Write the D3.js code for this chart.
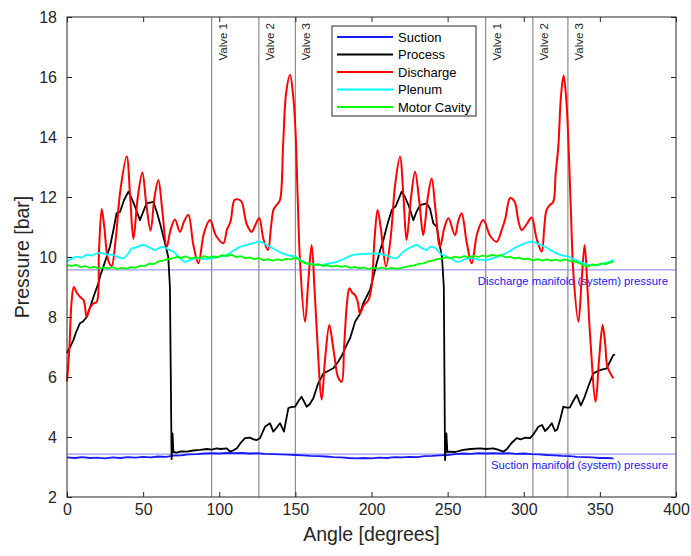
<!DOCTYPE html>
<html>
<head>
<meta charset="utf-8">
<script src="https://cdn.jsdelivr.net/npm/d3@7"></script>
<style>
  body { margin: 0; background: #fff; }
  svg { display: block; font-family: "Liberation Sans", Arial, sans-serif; }
</style>
</head>
<body>
<div id="chart"></div>
<script>
// ---- data ----
const angleTicks = [0, 50, 100, 150, 200, 250, 300, 350, 400];
const pressureTicks = [2, 4, 6, 8, 10, 12, 14, 16, 18];

const valveAngles = [95, 126, 150, 275, 306, 329];
const valveNames = ["Valve 1", "Valve 2", "Valve 3", "Valve 1", "Valve 2", "Valve 3"];

const dischargeManifold = 9.57;
const suctionManifold = 3.43;

const seriesNames = ["Suction", "Process", "Discharge", "Plenum", "Motor Cavity"];
const seriesColors = ["#1a1aff", "#000000", "#ff0000", "#00ffff", "#00ff00"];

// [angle, pressure]
const suction = [
  [0,3.32],[5,3.30],[10,3.33],[15,3.30],[20,3.31],[25,3.29],[30,3.32],[35,3.30],[40,3.33],[45,3.31],
  [50,3.34],[55,3.32],[60,3.35],[65,3.34],[70,3.38],[75,3.39],[80,3.42],[85,3.43],[90,3.45],[95,3.46],
  [100,3.45],[105,3.47],[110,3.46],[115,3.47],[120,3.45],[125,3.46],[130,3.44],[135,3.43],[140,3.42],
  [145,3.41],[150,3.40],[155,3.39],[160,3.37],[165,3.36],[170,3.35],[175,3.33],[180,3.32],[185,3.30],
  [190,3.29],[195,3.30],[200,3.29],[205,3.31],[210,3.30],[215,3.33],[220,3.32],[225,3.34],[230,3.33],
  [235,3.36],[240,3.37],[245,3.39],[250,3.40],[255,3.43],[260,3.45],[265,3.44],[270,3.46],[275,3.45],
  [280,3.46],[285,3.45],[290,3.46],[295,3.44],[300,3.45],[305,3.43],[310,3.42],[315,3.40],[320,3.39],
  [325,3.37],[330,3.36],[335,3.34],[340,3.33],[345,3.32],[350,3.30],[355,3.30],[359,3.29]
];

const process = [
  [0,6.8],[2,7.0],[4.2,7.23],[6,7.5],[8.5,7.79],[10.5,7.85],[12.9,8.0],[15,8.3],[17.3,8.65],[19,8.9],
  [20.6,9.12],[22,9.4],[23.9,9.68],[26,10.0],[28.2,10.34],[30.5,10.9],[32.6,11.46],[34.8,11.5],[37.5,11.9],
  [40.3,12.18],[42.5,11.95],[44.7,11.68],[47.9,11.23],[50,11.5],[52.3,11.79],[56.7,11.84],[59,11.5],
  [61.1,11.12],[64.4,10.46],[66.5,10.0],[67.6,9.0],[68.7,3.26],[69.3,4.12],[69.9,3.5],[72,3.48],[75,3.52],
  [78.6,3.51],[83,3.55],[87.4,3.57],[92,3.6],[95,3.58],[98.3,3.62],[101,3.6],[104.9,3.62],[107.1,3.51],
  [109,3.55],[111.5,3.62],[114,3.8],[116.9,3.96],[120.2,3.98],[122.5,3.92],[124.6,3.9],[126.8,3.96],
  [130,4.34],[133.3,4.46],[135.5,4.18],[137.5,4.3],[139.9,4.46],[142.5,4.18],[145.4,4.96],[147.5,5.0],
  [149.8,5.01],[152,5.2],[154.1,5.34],[157.4,5.01],[159.5,5.1],[161.8,5.29],[165,5.79],[168.4,6.12],
  [171.5,6.2],[174.9,6.29],[178,6.5],[180.4,6.7],[183.7,7.07],[186,7.3],[189.2,7.84],[192.4,8.1],
  [194.6,8.46],[199,8.9],[201,9.3],[203.4,9.79],[205.5,10.2],[207.8,10.57],[210.5,11.1],[213.3,11.57],
  [216,11.7],[219.8,12.18],[222,12.0],[224.5,11.7],[227.5,11.23],[229.5,11.5],[231.9,11.73],[236.3,11.79],
  [238.4,11.62],[240.6,11.12],[242.8,11.01],[245,10.34],[246.3,10.0],[247.5,9.0],[248.3,3.23],[249.2,4.12],
  [249.8,3.5],[251.5,3.51],[255,3.5],[260.3,3.57],[265,3.6],[271.3,3.62],[275,3.6],[280,3.62],[283,3.58],
  [286.6,3.51],[289,3.6],[292,3.8],[295.4,3.96],[298,3.92],[301,3.98],[304.1,3.96],[306.5,4.1],[309.6,4.34],
  [312,4.4],[314,4.2],[316,4.3],[318.4,4.46],[320.5,4.2],[322,4.25],[324,4.6],[326,5.01],[328,4.98],
  [330.2,4.98],[332.5,5.2],[334.8,5.4],[337.5,5.05],[340,5.34],[342.5,5.7],[345.7,6.12],[350,6.23],
  [354.5,6.29],[356.5,6.5],[358.8,6.73],[360,6.75]
];

const discharge = [
  [0,5.85],[1.5,6.9],[3,8.5],[4.5,9.0],[6.5,8.8],[9,8.65],[11,8.55],[12.9,8.0],[15,8.3],[17.3,8.45],
  [19.5,8.5],[21,10.2],[22.8,11.6],[24.5,11.0],[27,9.9],[29.3,9.7],[32,10.6],[35,12.2],[39.2,13.35],
  [41.5,12.0],[43.6,10.6],[46.5,12.0],[49.5,12.82],[52,11.8],[54.9,10.88],[57.5,12.0],[60,12.57],
  [62.5,11.6],[65.5,10.34],[68,10.9],[70.9,11.25],[74.2,10.84],[77,11.2],[79.7,11.4],[83,10.4],[86.3,9.79],
  [90,10.8],[93.9,11.23],[98,10.7],[102.7,10.46],[105,10.9],[107.5,11.2],[110,11.9],[112.5,11.92],
  [114.7,11.84],[118,11.1],[121.3,10.84],[124,11.1],[126.3,11.3],[129,10.6],[132,10.23],[134,11.0],
  [135.8,11.6],[138,11.75],[139.9,11.9],[142,13.8],[144,15.5],[146.5,16.07],[148.5,15.4],[150,14.3],
  [151.5,12.0],[153,9.9],[156.3,7.84],[158.5,9.2],[160.7,10.4],[162.5,9.0],[164,7.6],[167.3,5.25],
  [169.5,6.6],[172.3,7.73],[174.5,7.1],[176,6.57],[178,6.0],[180.4,5.84],[182,7.0],[183.8,8.4],
  [185.5,8.96],[187.5,8.8],[189.2,8.73],[191,8.5],[192.4,8.12],[195,8.4],[198,8.57],[200,9.0],[202,10.6],
  [204,11.57],[206,11.0],[209.5,9.68],[212.5,10.6],[215.5,12.4],[218.7,13.34],[221,12.0],[223,10.57],
  [226,12.0],[228.6,12.84],[231.5,11.8],[234,10.73],[237,12.0],[239.5,12.62],[242,11.6],[245,10.34],
  [248,11.0],[250.5,11.29],[254.8,10.73],[257,11.2],[259.2,11.46],[262.5,10.5],[265.8,9.79],[269.5,10.8],
  [273.4,11.23],[278,10.7],[282.2,10.51],[285.5,10.9],[288,11.3],[291,11.96],[294,11.84],[296.5,11.2],
  [298.6,10.9],[302,11.1],[305.2,11.32],[308.5,10.6],[311.8,10.18],[313.5,11.0],[315,11.57],[317.5,11.75],
  [319.4,11.84],[321,12.8],[322.7,13.68],[324.5,15.4],[326.2,16.05],[328,15.2],[329.5,13.6],[331,11.5],
  [332.6,9.46],[335.9,7.84],[338,9.2],[340,10.4],[341.8,9.0],[343.5,7.46],[347.2,5.18],[349.5,6.6],
  [351.8,7.73],[353.5,7.1],[355,6.34],[358.8,5.96]
];

const plenum = [
  [0,9.84],[3,9.95],[6.4,10.01],[9.5,9.98],[12.9,10.07],[16,10.05],[19.5,10.12],[23.9,10.12],[27,10.08],
  [30.4,10.07],[33.5,10.0],[37,9.96],[40,10.1],[42.5,10.28],[45.5,10.32],[50,10.4],[54,10.32],[57.8,10.23],
  [60.5,10.3],[63.3,10.34],[66.5,10.25],[69.8,10.18],[73.5,10.0],[77.5,9.84],[81,9.9],[85.2,9.96],[90,9.93],
  [96.1,9.96],[100,10.0],[104.9,10.07],[109,10.2],[113.6,10.34],[118,10.4],[122.4,10.46],[126.8,10.51],
  [130,10.44],[133.3,10.34],[138.5,10.2],[144.3,10.07],[149.8,10.01],[153.5,9.9],[157.4,9.79],[161.5,9.76],
  [166.2,9.73],[171.5,9.78],[177.1,9.84],[182.5,9.95],[188,10.07],[194.5,10.1],[201.2,10.12],[206,10.1],
  [211,10.03],[216.5,9.96],[220.9,10.18],[225,10.3],[229.7,10.4],[233,10.3],[236.3,10.23],[238.4,10.34],
  [242,10.3],[245,10.12],[248,10.05],[252,9.95],[257,9.84],[261,9.92],[264.7,9.96],[270,9.92],[275.7,9.9],
  [281,9.98],[286,10.07],[291,10.2],[295.4,10.34],[300,10.44],[305.2,10.51],[309.5,10.44],[314,10.34],
  [318,10.22],[321.6,10.12],[325.5,10.05],[329.3,10.01],[333,9.92],[337,9.84],[340,9.78],[343.5,9.73],
  [347.5,9.72],[351,9.76],[355,9.82],[358.8,9.9]
];

const motorCavity = [
  [0,9.73],[3,9.70],[6,9.74],[9,9.66],[12,9.70],[15,9.64],[18,9.67],[21,9.61],[24,9.65],[27,9.62],
  [30,9.66],[33,9.60],[36,9.64],[39,9.61],[42,9.66],[45,9.64],[48,9.71],[51,9.70],[54,9.78],[57,9.76],
  [60,9.85],[63,9.88],[66,9.92],[69,9.95],[72,10.00],[75,9.97],[78,10.02],[81,9.95],[84,9.99],[87,9.96],
  [90,10.03],[93,9.98],[96,10.02],[99,10.00],[102,10.06],[105,10.03],[108,10.08],[111,10.00],[114,10.03],
  [117,9.96],[120,9.99],[123,9.93],[126,9.96],[129,9.89],[132,9.93],[135,9.88],[138,9.92],[141,9.89],
  [144,9.94],[147,9.92],[150,9.98],[153,9.88],[156,9.80],[159,9.77],[162,9.73],[165,9.76],[168,9.70],
  [171,9.73],[174,9.68],[177,9.71],[180,9.67],[183,9.70],[186,9.64],[189,9.67],[192,9.62],[195,9.65],
  [198,9.60],[201,9.64],[204,9.61],[207,9.65],[210,9.60],[213,9.64],[216,9.61],[219,9.63],[222,9.66],
  [225,9.70],[228,9.72],[231,9.77],[234,9.79],[237,9.85],[240,9.88],[243,9.93],[246,9.95],[249,9.99],
  [252,9.96],[255,10.01],[258,9.98],[261,10.03],[264,9.99],[267,10.04],[270,10.0],[273,10.05],[276,10.01],
  [279,10.07],[282,10.04],[285,10.06],[288,9.99],[291,10.01],[294,9.95],[297,9.98],[300,9.92],[303,9.95],
  [306,9.89],[309,9.93],[312,9.88],[315,9.92],[318,9.88],[321,9.91],[324,9.87],[327,9.92],[330,9.87],
  [333,9.86],[336,9.80],[339,9.74],[342,9.68],[345,9.75],[348,9.72],[351,9.79],[354,9.76],[357,9.82],
  [359,9.84]
];

const seriesData = [suction, process, discharge, plenum, motorCavity];

// ---- layout ----
const width = 691, height = 556;
const plot = { left: 67, top: 17, right: 676, bottom: 497 };
const axisColor = "#262626";

const x = d3.scaleLinear().domain([0, 400]).range([plot.left, plot.right]);
const y = d3.scaleLinear().domain([2, 18]).range([plot.bottom, plot.top]);

const svg = d3.select("#chart").append("svg")
  .attr("width", width)
  .attr("height", height);

svg.append("rect")
  .attr("width", width).attr("height", height)
  .attr("fill", "#fff");

// valve lines
svg.append("g").selectAll("line")
  .data(valveAngles)
  .enter().append("line")
  .attr("x1", d => x(d)).attr("x2", d => x(d))
  .attr("y1", plot.top).attr("y2", plot.bottom)
  .attr("stroke", "#8c8c8c")
  .attr("stroke-width", 1.2);

svg.append("g").selectAll("text")
  .data(valveAngles)
  .enter().append("text")
  .attr("transform", d => `translate(${x(d) + 15},${plot.top + 6}) rotate(-90)`)
  .attr("text-anchor", "end")
  .style("font-size", "11.5px")
  .attr("fill", "#262626")
  .text((d, i) => valveNames[i]);

// manifold reference lines
const refLines = [dischargeManifold, suctionManifold];
const refLabels = ["Discharge manifold (system) pressure", "Suction manifold (system) pressure"];

svg.append("g").selectAll("line")
  .data(refLines)
  .enter().append("line")
  .attr("x1", plot.left).attr("x2", plot.right)
  .attr("y1", d => y(d)).attr("y2", d => y(d))
  .attr("stroke", "#7f7fff")
  .attr("stroke-width", 1);

svg.append("g").selectAll("text")
  .data(refLines)
  .enter().append("text")
  .attr("x", 668)
  .attr("y", d => y(d) + 15)
  .attr("text-anchor", "end")
  .style("font-size", "11.3px")
  .attr("fill", "#2020ff")
  .text((d, i) => refLabels[i]);

// series
const line = d3.line()
  .x(d => x(d[0]))
  .y(d => y(d[1]));

const smooth = d3.curveCatmullRom.alpha(0.5);
const curves = [d3.curveLinear, d3.curveLinear, smooth, smooth, d3.curveLinear];
const widths = [1.8, 1.8, 2, 1.8, 1.8];

svg.append("g").selectAll("path")
  .data(seriesData)
  .enter().append("path")
  .attr("d", (d, i) => line.curve(curves[i])(d))
  .attr("fill", "none")
  .attr("stroke", (d, i) => seriesColors[i])
  .attr("stroke-width", (d, i) => widths[i])
  .attr("stroke-linejoin", "round");

// axes (ticks inside, mirrored on top / right)
const fontSize = "16px";

const gx = svg.append("g")
  .attr("transform", `translate(0,${plot.bottom})`)
  .call(d3.axisBottom(x).tickValues(angleTicks).tickSizeInner(-5).tickSizeOuter(0).tickPadding(7));

const gy = svg.append("g")
  .attr("transform", `translate(${plot.left},0)`)
  .call(d3.axisLeft(y).tickValues(pressureTicks).tickSizeInner(-5).tickSizeOuter(0).tickPadding(10));

const gt = svg.append("g")
  .attr("transform", `translate(0,${plot.top})`)
  .call(d3.axisTop(x).tickValues(angleTicks).tickSizeInner(-5).tickSizeOuter(0).tickFormat(""));

const gr = svg.append("g")
  .attr("transform", `translate(${plot.right},0)`)
  .call(d3.axisRight(y).tickValues(pressureTicks).tickSizeInner(-5).tickSizeOuter(0).tickFormat(""));

[gx, gy, gt, gr].forEach(g => {
  g.select(".domain").remove();
  g.selectAll("line").attr("stroke", axisColor);
  g.selectAll("text")
    .attr("fill", axisColor)
    .style("font-size", fontSize)
    .style("font-family", "\"Liberation Sans\", Arial, sans-serif");
});

svg.append("rect")
  .attr("x", plot.left).attr("y", plot.top)
  .attr("width", plot.right - plot.left)
  .attr("height", plot.bottom - plot.top)
  .attr("fill", "none")
  .attr("stroke", axisColor)
  .attr("stroke-width", 1);

// axis titles
svg.append("text")
  .attr("x", (plot.left + plot.right) / 2)
  .attr("y", 541)
  .attr("text-anchor", "middle")
  .style("font-size", "19.5px")
  .attr("fill", axisColor)
  .text("Angle [degrees]");

svg.append("text")
  .attr("transform", `translate(29,${(plot.top + plot.bottom) / 2}) rotate(-90)`)
  .attr("text-anchor", "middle")
  .style("font-size", "19.5px")
  .attr("fill", axisColor)
  .text("Pressure [bar]");

// legend
const legend = svg.append("g").attr("transform", "translate(332,26)");

legend.append("rect")
  .attr("width", 144).attr("height", 90)
  .attr("fill", "#fff")
  .attr("stroke", axisColor)
  .attr("stroke-width", 1);

const items = legend.selectAll("g.item")
  .data(seriesNames)
  .enter().append("g")
  .attr("class", "item")
  .attr("transform", (d, i) => `translate(0,${11 + i * 17.5})`);

items.append("line")
  .attr("x1", 5).attr("x2", 61)
  .attr("stroke", (d, i) => seriesColors[i])
  .attr("stroke-width", 1.8);

items.append("text")
  .attr("x", 66)
  .attr("dy", "0.35em")
  .style("font-size", "13px")
  .attr("fill", "#000")
  .text(d => d);
</script>
</body>
</html>
